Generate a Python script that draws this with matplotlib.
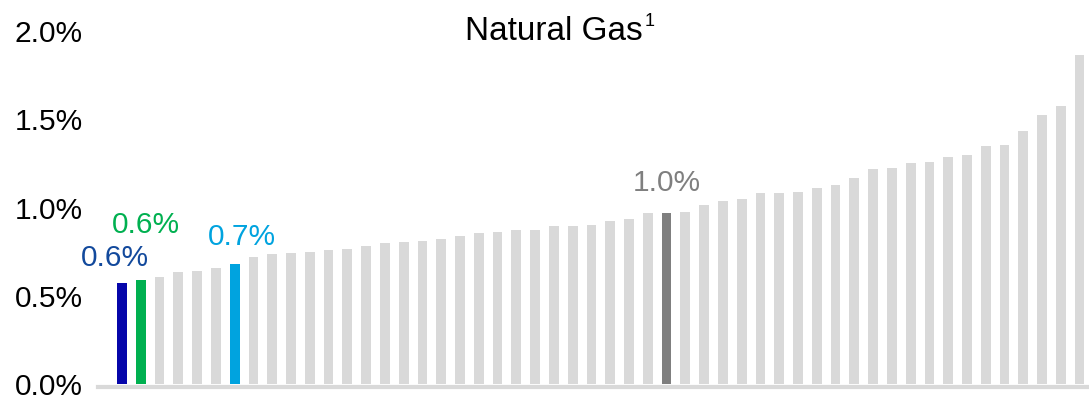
import matplotlib
matplotlib.use("Agg")
import matplotlib.pyplot as plt

plt.rcParams['font.family'] = ['Liberation Sans', 'DejaVu Sans']

# share of value, sorted ascending (52 items)
values = [0.571, 0.593, 0.606, 0.633, 0.644, 0.659, 0.683, 0.723, 0.736, 0.744,
          0.747, 0.758, 0.768, 0.785, 0.800, 0.803, 0.813, 0.820, 0.839, 0.858,
          0.862, 0.871, 0.871, 0.894, 0.897, 0.903, 0.926, 0.937, 0.967, 0.971,
          0.976, 1.016, 1.038, 1.048, 1.085, 1.085, 1.091, 1.112, 1.125, 1.170,
          1.217, 1.224, 1.251, 1.258, 1.286, 1.299, 1.346, 1.354, 1.434, 1.523,
          1.574, 1.863]

# highlighted bars
highlight_idx = [0, 1, 6, 29]
highlight_colors = ['#0606AA', '#00B050', '#00A3DF', '#7F7F7F']
highlight_labels = ['0.6%', '0.6%', '0.7%', '1.0%']
label_colors = ['#12499C', '#00B050', '#00A3DF', '#7F7F7F']
label_offsets = [(-5, 18), (4, 39), (5.5, 19), (0, 21.5)]

yticks = [0.0, 0.5, 1.0, 1.5, 2.0]
ytick_labels = ['0.0%', '0.5%', '1.0%', '1.5%', '2.0%']

colors = ['#D9D9D9'] * len(values)
for i, c in zip(highlight_idx, highlight_colors):
    colors[i] = c

fig = plt.figure(figsize=(10.89, 4.0), dpi=100)
ax = fig.add_axes([0.09, 0.039, 0.91, 0.884])

x = list(range(len(values)))
ax.bar(x, values, width=0.52, color=colors)

for i, txt, c, off in zip(highlight_idx, highlight_labels, label_colors, label_offsets):
    ax.annotate(txt, xy=(i, values[i]), xytext=off, textcoords='offset points',
                ha='center', va='center', fontsize=21.5, color=c)

ax.set_xlim(-1.28, 51.5)
ax.set_ylim(0, 2.0)
ax.set_yticks(yticks)
ax.set_yticklabels(ytick_labels, fontsize=21.5)
ax.set_xticks([])
ax.tick_params(axis='y', length=0, pad=11)
for s in ['left', 'right', 'top']:
    ax.spines[s].set_visible(False)
ax.spines['bottom'].set_color('#D9D9D9')
ax.spines['bottom'].set_linewidth(3)
ax.spines['bottom'].set_position(('outward', 2))

t = fig.text(0.509, 0.9, "Natural Gas", ha='center', va='baseline', fontsize=24)
ax.annotate("1", xy=(1, 1), xycoords=t, xytext=(1, 2), textcoords='offset points',
            ha='left', va='top', fontsize=13)

fig.savefig("out.png", dpi=100)
